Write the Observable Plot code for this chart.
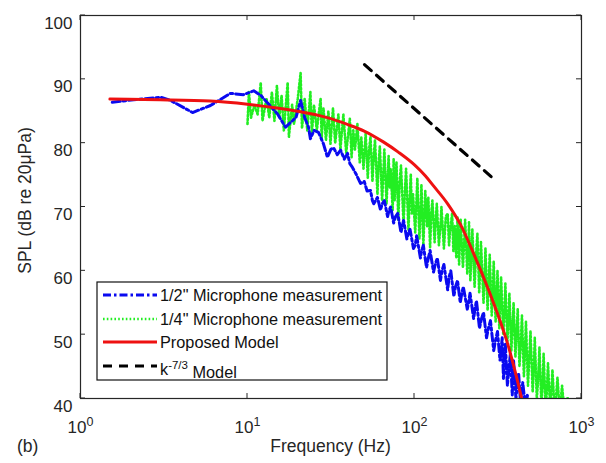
<!DOCTYPE html>
<html><head><meta charset="utf-8">
<script src="https://cdn.jsdelivr.net/npm/d3@7"></script>
<script src="https://cdn.jsdelivr.net/npm/@observablehq/plot@0.6"></script>
<style>
body{margin:0;background:#fff}
#chart svg{font-family:"Liberation Sans",Arial,Helvetica,sans-serif}
</style>
</head><body><div id="chart"></div>
<script>
// ---- data ----
const xTicks = [1, 10, 100, 1000];
const xTickLabels = ["10^0", "10^1", "10^2", "10^3"];
const yTicks = [40, 50, 60, 70, 80, 90, 100];

const seriesNames = ["1/2\" Microphone measurement", "1/4\" Microphone measurement", "Proposed Model", "k^-7/3 Model"];

// 1/2" microphone (blue, dash-dot): [frequency Hz, SPL dB]
const halfPoints = [
  [1.55,86.4],[2.08,86.8],[3.01,87.2],[3.46,86.7],[4.69,84.8],[6.0,85.9],[7.91,87.8],[9.46,87.6],[10.9,88.2],[12,87.5],
  [13.5,86],[15.1,84.6],[16.9,82.5],[18,83.2],[19.5,84],[20.8,86.7],[22,84],[23.2,82.5],[23.8,80.7],[25,82],
  [26.6,81.7],[28.5,79.9],[30.1,77.8],[31.5,79],[32.7,79.3],[34.5,78.2],[36.1,78.9],[38,77.5],[39.7,78.4],[41,76.8],
  [42.5,76.2],[45,75],[47.5,73.7],[50,74],[52,72.5],[54.5,72.6],[56,71],[57,70.5],[60,71.5],[62.6,69.5],
  [64,70.5],[66,71],[69,68.5],[70.5,69.5],[72,70],[75,67.5],[77,68.5],[79.4,69],[83,66],[84.5,67],
  [86,67.9],[90,65],[92,66],[94,66.5],[98.6,63.5],[101,64],[103,65.5],[108.5,62],[110,63],[113,64],
  [118,60.5],[121,62],[124,63.2],[130,59.8],[133,61],[137,62],[143,58.5],[146,60],[150,61],[158,57],
  [161,59],[165,60],[172,56],[176,57.5],[181,58.5],[188,55],[192,56.5],[196,57.5],[207,54],[211,55],
  [215,56.5],[226,52.5],[230,54],[235,55.3],[245,51],[252,52.5],[259,53.5],[270,49.5],[277,51],[285,52.2],
  [298,47.5],[305,49],[314,50.5],[325,46],[330,47.5],[335,49.5],[341,43],[345,46],[350,48.5],[360,42],
  [367,44.5],[375,47],[385,40.5],[388,43],[392,45.9],[405,40],[412,42],[420,44],[431,39.5],[438,41],
  [445,42.5],[460,39],[467,40],[474,40.5],[490,38]
];

// 1/4" microphone (green, dotted): [frequency Hz, SPL dB]
const quarterPoints = [
  [10.0,83],[10.2,88],[10.5,84],[11,86],[11.5,84.5],[12,89.5],[12.3,83.5],[13,87],[13.5,84],[14,88],
  [14.5,83.5],[15,89],[15.5,84],[16,87.5],[16.5,82],[17.4,89.5],[17.7,81],[18.5,86],[19,83],[20,87],
  [20.8,91],[21.2,82.3],[22,87],[22.8,82],[23.8,88],[24.3,81.5],[25,86],[26,82],[27.4,87],[27.8,80.7],
  [28.5,85.5],[29.5,80.5],[30.5,85],[31.4,79.9],[32.5,85.5],[33.5,80],[35,84.5],[36,79],[37.5,84.5],[39,78.5],
  [41,83.8],[42,77.8],[43,82],[44,79],[45.5,83],[47,77],[48,81],[49.5,76],[51,81.5],[52.5,74.6],
  [53.5,79],[54.5,81],[56,74],[57,78],[58,80.5],[60,72],[61,77],[62,79.5],[64,71],[65,75],
  [66,79],[68,70.5],[70,78],[71,73],[72,76],[74,69.5],[75,77.5],[76,71],[78,77],[80,68],
  [81.5,74],[83,76.5],[86,67.4],[87.5,72],[89,76],[92,66.5],[95,75.2],[96.5,69],[98,72],[101,66],
  [104,74.5],[107,65],[109,70],[110,73.5],[113,64],[116,72.5],[119,67],[121,71.5],[124,63.7],[126,69],
  [128,71],[132,64.5],[134,68],[136,70.5],[140,64],[143,67],[145,70],[150,63.5],[154,68.5],[158,69],
  [161,64],[163,66],[168,69],[171,63],[174,67],[178,62],[181,68.5],[185,61],[187,65],[189,68],
  [195,60.5],[198,64],[201,68],[207,59.5],[210,63],[212,67.6],[216,58.5],[219,62],[222,66.5],[229,57.5],
  [233,62],[238,65.8],[244,56.5],[247,60],[250,64.5],[259,55],[262,58],[266,63.5],[274,53.8],[278,58],
  [282,62.5],[290,53],[294,56],[298,61.5],[306,52],[310,55.5],[314,60],[322,51],[326,55],[330,59],
  [340,50],[345,53],[350,58],[360,49],[365,52],[370,56.5],[380,47.5],[386,51],[392,55],[402,46.5],
  [408,50],[415,54],[425,45],[432,48],[440,53],[452,43.5],[458,47],[465,52],[478,42],[486,46],
  [495,50.6],[510,41],[517,44],[525,49.5],[540,40],[550,43],[560,48],[575,39],[585,42],[593,47],
  [610,38.5],[620,41],[630,45.5],[650,38],[660,41],[670,44.5],[690,38],[705,40.5],[718,43.3],[740,38],
  [765,42],[790,38],[826,40.2],[850,39]
];

// Proposed model (red, solid)
const modelPoints = [
  [1.5,86.9],[3,86.8],[6,86.6],[10,86.1],[15,85.5],[20,85.0],[30,84.0],[40,82.9],[50,81.9],[65,80.2],
  [80,78.6],[100,76.6],[116,74.9],[130,73.3],[158,70.5],[189,67.2],[226,62.7],[274,57.4],[314,53.3],[361,48.6],
  [392,45.2],[431,40.8],[445,39.2]
];

// k^-7/3 reference slope (black, dashed)
const kPoints = [[50.2,92.3],[301,74.3]];

const toRows = pts => pts.map(([f, spl]) => ({f, spl}));
const half = toRows(halfPoints), quarter = toRows(quarterPoints), model = toRows(modelPoints), kline = toRows(kPoints);

const BLUE = "#0a0af0", GREEN = "#22ee22", RED = "#ee1111", BLACK = "#000";
const AXIS = "#262626";
const FONT = "'Liberation Sans', Arial, sans-serif";

const chart = Plot.plot({
  width: 606, height: 463,
  marginLeft: 80, marginRight: 25, marginTop: 15, marginBottom: 65,
  style: {fontFamily: FONT, fontSize: "17px", color: AXIS, background: "#fff", overflow: "visible"},
  x: {type: "log", domain: [1, 1000], ticks: xTicks, tickSize: 0, tickPadding: 22,
      tickFormat: d => xTickLabels[xTicks.indexOf(d)], label: null},
  y: {domain: [40, 100], ticks: yTicks, tickSize: 0, tickPadding: 8, label: null},
  marks: [
    Plot.line(quarter, {x: "f", y: "spl", stroke: GREEN, strokeWidth: 2.6, strokeDasharray: "1.6,2.2", clip: true}),
    Plot.line(half, {x: "f", y: "spl", stroke: BLUE, strokeWidth: 3, strokeDasharray: "8,3,2.5,3", clip: true}),
    Plot.line(model, {x: "f", y: "spl", stroke: RED, strokeWidth: 3, curve: "monotone-x", clip: true}),
    Plot.line(kline, {x: "f", y: "spl", stroke: BLACK, strokeWidth: 3.2, strokeDasharray: "9,7"}),
    Plot.frame({stroke: AXIS, strokeWidth: 1.2})
  ]
});
document.getElementById("chart").appendChild(chart);

const svg = d3.select(chart.tagName.toLowerCase() === "svg" ? chart : chart.querySelector("svg"));
const sx = chart.scale("x"), sy = chart.scale("y");
const [x0, x1] = sx.range, [y0, y1] = sy.range; // y0 bottom, y1 top

// tick label font + superscripts
svg.selectAll("g[aria-label^='x-axis'] text, g[aria-label^='y-axis'] text")
  .style("font-size", "17px").attr("fill", AXIS);
svg.selectAll("text").each(function () {
  const t = this.textContent;
  if (t && t.indexOf("^") > 0 && t.startsWith("10")) {
    const [base, exp] = t.split("^");
    const sel = d3.select(this);
    sel.text(null);
    sel.append("tspan").text(base);
    sel.append("tspan").attr("dy", "-0.55em").style("font-size", "12.5px").text(exp);
  }
});
svg.selectAll("g[aria-label^='y-axis'] text").attr("dy", "0.45em");

// inward tick marks (all four sides)
const tg = svg.append("g").attr("stroke", AXIS).attr("stroke-width", 1);
xTicks.forEach(v => {
  const px = sx.apply(v);
  tg.append("line").attr("x1", px).attr("x2", px).attr("y1", y0).attr("y2", y0 - 5);
  tg.append("line").attr("x1", px).attr("x2", px).attr("y1", y1).attr("y2", y1 + 5);
});
yTicks.forEach(v => {
  const py = sy.apply(v);
  tg.append("line").attr("x1", x0).attr("x2", x0 + 5).attr("y1", py).attr("y2", py);
  tg.append("line").attr("x1", x1).attr("x2", x1 - 5).attr("y1", py).attr("y2", py);
});

// axis titles and panel tag
const addText = (x, y, anchor, str, size) => svg.append("text").attr("x", x).attr("y", y)
  .attr("text-anchor", anchor).style("font-size", size || "17.5px").attr("fill", AXIS).text(str);
addText((x0 + x1) / 2, 452, "middle", "Frequency (Hz)");
addText(17, 452, "start", "(b)");
svg.append("text").attr("transform", `translate(31,${(y0 + y1) / 2 - 6}) rotate(-90)`).attr("text-anchor", "middle")
  .style("font-size", "17.5px").attr("fill", AXIS).text("SPL (dB re 20μPa)");

// legend
const lg = svg.append("g");
lg.append("rect").attr("x", 97).attr("y", 282).attr("width", 290).attr("height", 98)
  .attr("fill", "#fff").attr("stroke", "#111").attr("stroke-width", 1.2);
const legendStyles = [
  {stroke: BLUE, dash: "8,3,2.5,3", w: 3},
  {stroke: GREEN, dash: "1.6,2.2", w: 2.6},
  {stroke: RED, dash: null, w: 3},
  {stroke: BLACK, dash: "9,7", w: 3.2}
];
const rowsY = [295, 319, 342, 366];
seriesNames.forEach((name, i) => {
  const s = legendStyles[i], y = rowsY[i];
  const ln = lg.append("line").attr("x1", 103).attr("x2", 157).attr("y1", y).attr("y2", y)
    .attr("stroke", s.stroke).attr("stroke-width", s.w);
  if (s.dash) ln.attr("stroke-dasharray", s.dash);
  const tx = lg.append("text").attr("x", 160).attr("y", y + 6).attr("text-anchor", "start")
    .style("font-size", "16.3px").attr("fill", "#111");
  if (name.startsWith("k^")) {
    tx.attr("y", y + 9);
    tx.append("tspan").text("k");
    tx.append("tspan").attr("dy", "-0.55em").style("font-size", "11.5px").text("-7/3");
    tx.append("tspan").attr("dy", "0.55em").text(" Model");
  } else {
    tx.text(name);
  }
});
</script>
</body></html>
